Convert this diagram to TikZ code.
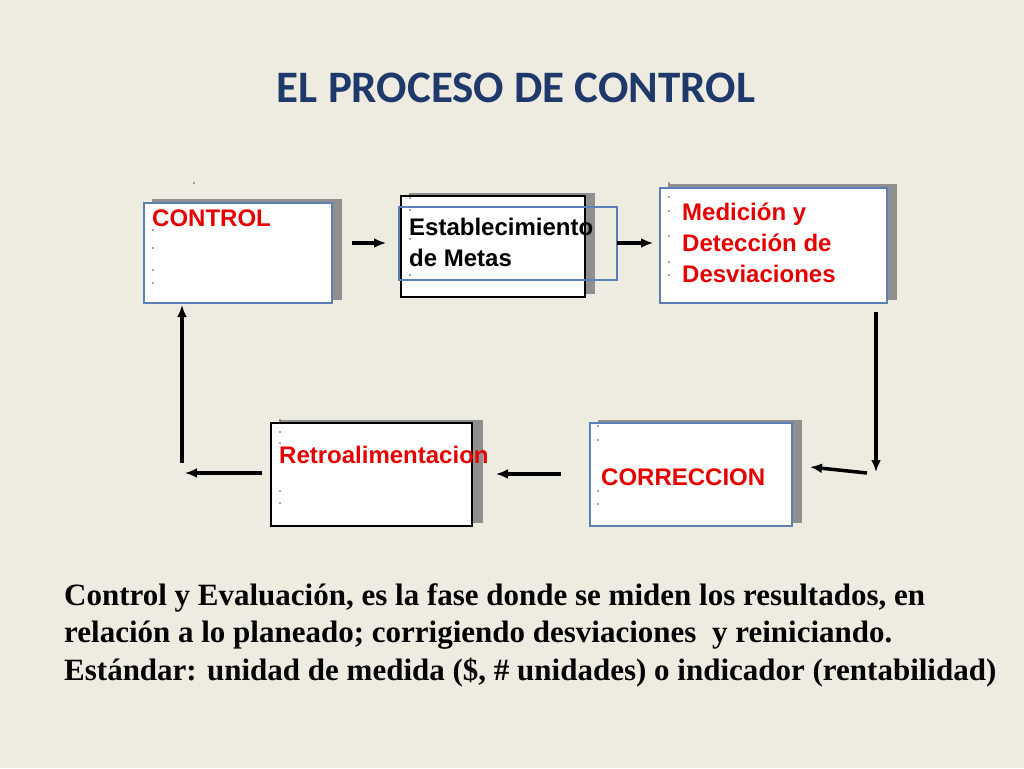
\documentclass[tikz,border=0pt]{standalone}
\usepackage{fontspec}
\setmainfont{Liberation Serif}
\setsansfont{Liberation Sans}
\newfontfamily\titlefont{Carlito}
\usetikzlibrary{arrows.meta}
\definecolor{bg}{HTML}{EEEBE1}
\definecolor{ttl}{HTML}{1F3A6A}
\definecolor{rd}{HTML}{E60000}
\definecolor{bl}{HTML}{5B80B5}
\definecolor{sh}{HTML}{8F8F8F}
\tikzset{
 x=1pt,y=-1pt,
 shadowbox/.style={fill=sh,draw=none},
 boxb/.style={fill=white,draw=bl,line width=1.5pt},
 boxk/.style={fill=white,draw=black,line width=1.8pt},
 lbl/.style={font=\sffamily\bfseries\fontsize{24}{31}\selectfont,align=left,anchor=north west,inner sep=0pt},
 arr/.style={-{Latex[length=12pt,width=10pt]},line width=3.5pt},
}
\begin{document}
\begin{tikzpicture}
\useasboundingbox[fill=bg] (0,0) rectangle (1024,768);
\node[font=\titlefont\bfseries\fontsize{45}{50}\selectfont,text=ttl] (title) at (516,88) {EL PROCESO DE CONTROL};
% CONTROL
\fill[shadowbox] (152,199) rectangle (342,300);
\draw[boxb] (144,203) rectangle (332,303);
\node[lbl,text=rd] (t1) at (152,210) {CONTROL};
% Establecimiento
\fill[shadowbox] (409,193) rectangle (595,294);
\draw[boxk] (401,196) rectangle (585,297);
\draw[bl,line width=1.3pt] (399,207) rectangle (617,280);
\node[lbl] (t2) at (409,218) {Establecimiento\\de Metas};
% Medicion
\fill[shadowbox] (668,184) rectangle (897,300);
\draw[boxb] (660,188) rectangle (887,303);
\node[lbl,text=rd] (t3) at (682,203) {Medición y\\Detección de\\Desviaciones};
% Retro
\fill[shadowbox] (279,420) rectangle (483,523);
\draw[boxk] (271,423) rectangle (472,526);
\node[lbl,text=rd] (t4) at (279,446) {Retroalimentacion};
% Correccion
\fill[shadowbox] (598,420) rectangle (802,523);
\draw[boxb] (590,423) rectangle (792,526);
\node[lbl,text=rd] (t5) at (601,469) {CORRECCION};
% small dots
\foreach \p in {(194,183),(153,230),(153,248),(153,270),(153,283),(410,198),(410,210),(410,239),(410,275),(669,183),(669,197),(669,211),(669,236),(669,262),(669,275),(598,426),(598,440),(598,491),(598,504),(280,420),(280,432),(280,443),(280,491),(280,503)}
  \fill[black!70] \p circle (0.9);
% arrows
\coordinate (a1s) at (352,243); \coordinate (a1e) at (386,243);
\coordinate (a2s) at (617,243); \coordinate (a2e) at (653,243);
\coordinate (a3s) at (876,312); \coordinate (a3e) at (876,472);
\coordinate (a4s) at (867,473); \coordinate (a4e) at (810,467);
\coordinate (a5s) at (561,474); \coordinate (a5e) at (496,474);
\coordinate (a6s) at (262,473); \coordinate (a6e) at (185,473);
\coordinate (a7s) at (182,463); \coordinate (a7e) at (182,305);
\foreach \i in {1,...,7} \draw[arr] (a\i s) -- (a\i e);
\node[anchor=north west,inner sep=0pt,align=left,font=\bfseries\fontsize{31}{37.5}\selectfont] (body) at (64,583)
 {Control y Evaluación, es la fase donde se miden los resultados, en\\
 relación a lo planeado; corrigiendo desviaciones\ \ y reiniciando.\\
 Estándar: unidad de medida (\$, \# unidades) o indicador (rentabilidad)};
\end{tikzpicture}
\end{document}
